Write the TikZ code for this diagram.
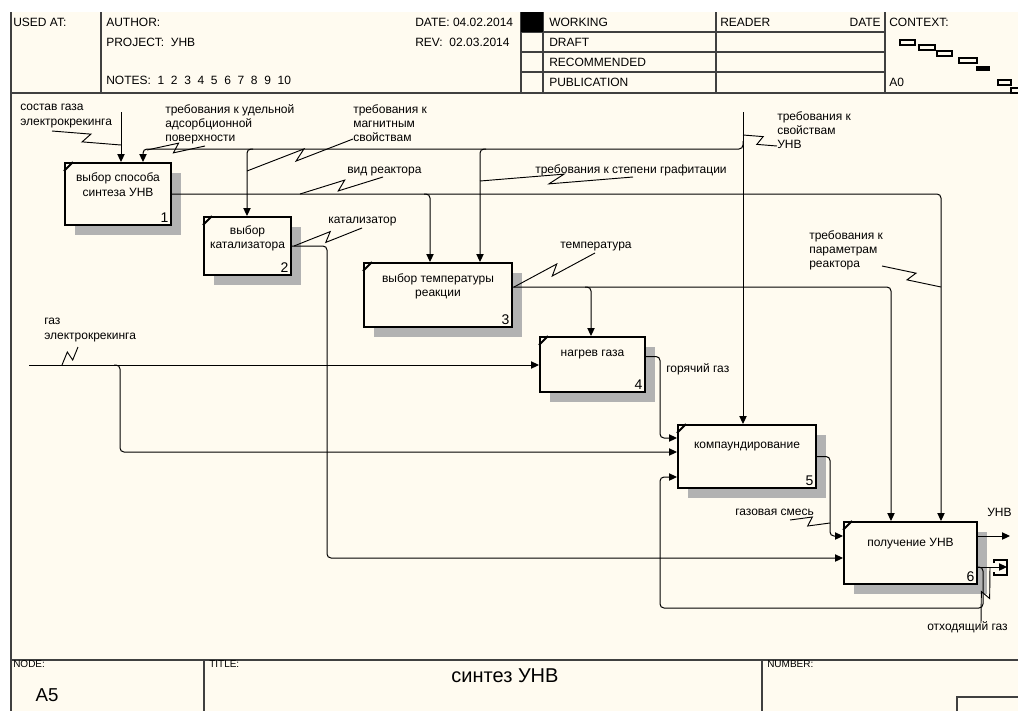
\documentclass[tikz,border=0pt]{standalone}
\usepackage{fontspec}
\setmainfont{Liberation Sans}
\usetikzlibrary{positioning, arrows.meta, calc, shadows}
\definecolor{bg}{HTML}{FFFBF0}
\newdimen\px \px=0.75pt
\newcommand\lblfont{\fontsize{9}{10.8}\selectfont}

\begin{document}
\begin{tikzpicture}[
  x=0.75pt, y=-0.75pt,
  >={Triangle[length=6pt, width=5.5pt]},
  every node/.style={font=\lblfont, inner sep=0pt},
  frame/.style={line width=1.1pt, black!75},
  hdr/.style={anchor=base west},
  foot/.style={anchor=base west, font=\fontsize{7.5}{9}\selectfont},
  func/.style={
    draw, line width=1.5pt, fill=bg,
    general shadow={fill=black!30, shadow xshift=7.5pt, shadow yshift=-7.5pt}
  },
  boxtxt/.style={align=center},
  boxnum/.style={anchor=south east, inner sep=2.5pt, font=\fontsize{10.5}{12}\selectfont},
  tick/.style={line width=1.5pt},
  lbl/.style={anchor=north west, align=left, execute at begin node=\strut},
  arr/.style={->, line width=0.75pt, rounded corners=3pt},
  squig/.style={line width=0.7pt, to path={
    -- ($(\tikztostart)!0.55!(\tikztotarget)!3.5pt!90:(\tikztotarget)$)
    -- ($(\tikztostart)!0.45!(\tikztotarget)!3.5pt!-90:(\tikztotarget)$)
    -- (\tikztotarget)}}
]
\useasboundingbox (0,0) rectangle (1018,711);
\fill[white] (0,0) rectangle (1018,711);
\fill[bg] (11,12) rectangle (1018,711);

% Header frame
\draw[frame] (11,12) -- (11,711);
\draw[frame] (11,93) -- (1018,93);
\foreach \x in {101,521,543,716,885} \draw[frame] (\x,12) -- (\x,93);
\foreach \y in {32,52,72} \draw[frame] (521,\y) -- (885,\y);
\fill (521,12) rectangle (543,32);

\node[hdr] (usedat) at (13,26) {USED AT:};
\node[hdr] (author) at (106,26) {AUTHOR:};
\node[hdr] (project) at (106,46) {PROJECT:\ \ УНВ};
\node[hdr] (notes) at (106,84) {NOTES:\ \ 1\ \ 2\ \ 3\ \ 4\ \ 5\ \ 6\ \ 7\ \ 8\ \ 9\ \ 10};
\node[hdr] (date) at (415,26) {DATE:\ 04.02.2014};
\node[hdr] (rev) at (415,46) {REV:\ \ 02.03.2014};
\node[hdr] (working) at (549,26) {WORKING};
\node[hdr] (draft) at (549,46) {DRAFT};
\node[hdr] (recomm) at (549,66) {RECOMMENDED};
\node[hdr] (public) at (549,86) {PUBLICATION};
\node[hdr] (reader) at (720,26) {READER};
\node[anchor=base east] (rdate) at (881,26) {DATE};
\node[hdr] (context) at (889,26) {CONTEXT:};
\node[hdr] (ctxnode) at (889,86) {A0};

% Context map
\foreach \a/\b/\c/\d in {900/40/915/45, 919/45/935/50, 937/51/952/56,
  959/58/977/63, 998/80/1011/85, 1011/88/1024/93}
  \draw[line width=0.8pt] (\a,\b) rectangle (\c,\d);
\fill (976,66) rectangle (990,71);

% Footer frame
\draw[frame] (11,660) -- (1018,660);
\draw[frame] (204,660) -- (204,711);
\draw[frame] (762,660) -- (762,711);
\draw[frame] (957,711) |- (1018,697);
\node[foot] (nodelbl) at (13,667) {NODE:};
\node[foot] (titlelbl) at (209,667) {TITLE:};
\node[foot] (numlbl) at (767,667) {NUMBER:};
\node[font=\fontsize{14}{16}\selectfont] (nodeno) at (47,695) {A5};
\node[font=\fontsize{15}{17}\selectfont] (title) at (505,676) {синтез УНВ};

% Activity boxes
\node[func, minimum width=106\px, minimum height=62\px] (b1) at (118,194) {};
\node[func, minimum width=87\px, minimum height=58\px] (b2) at (247.5,246) {};
\node[func, minimum width=148\px, minimum height=64\px] (b3) at (438,295) {};
\node[func, minimum width=105\px, minimum height=55\px] (b4) at (592.5,364.5) {};
\node[func, minimum width=138\px, minimum height=63\px] (b5) at (747,456.5) {};
\node[func, minimum width=133\px, minimum height=62\px] (b6) at (910.5,553) {};

\node[boxtxt] (t1) at ($(b1.north)+(0,22.5)$) {выбор способа\\синтеза УНВ};
\node[boxtxt] (t2) at ($(b2.north)+(0,22.5)$) {выбор\\катализатора};
\node[boxtxt] (t3) at ($(b3.north)+(0,24.5)$) {выбор температуры\\реакции};
\node[boxtxt] (t4) at ($(b4.north)+(0,19)$) {нагрев газа};
\node[boxtxt] (t5) at ($(b5.north)+(0,23)$) {компаундирование};
\node[boxtxt] (t6) at ($(b6.north)+(0,23)$) {получение УНВ};

\foreach \i in {1,...,6} {
  \node[boxnum] (n\i) at (b\i.south east) {\i};
  \draw[tick] ($(b\i.north west)+(0,9)$) -- ($(b\i.north west)+(9,0)$);
}

% Control of A1: gas composition
\coordinate (sg) at (121,112);
\draw[arr] (sg) -- (sg |- b1.north);

% Requirements: enter at top, feed A5, branch left to A1, A2, A3
\coordinate (rq) at (743,112);
\coordinate (rqj) at (743,149);
\coordinate (r1) at (143,149);
\coordinate (r2) at (247,149);
\coordinate (r3) at (480,149);
\draw[arr] (rq) -- (rq |- b5.north);
\draw[arr] ($(rqj)+(0,-8)$) -- (rqj) -| (r1 |- b1.north);
\draw[arr] ($(r2)+(6,0)$) -| (r2 |- b2.north);
\draw[arr] ($(r3)+(6,0)$) -| (r3 |- b3.north);

% A1 output: reactor type to A3 and A6
\coordinate (vr) at (941,194);
\coordinate (v3) at (430,194);
\draw[arr] (b1.east) -| (vr |- b6.north);
\draw[arr] ($(v3)+(-6,0)$) -| (v3 |- b3.north);

% A2 output: catalyst to A6
\coordinate (kt) at (327,558);
\draw[arr] (b2.east) -| (kt) -- (kt -| b6.west);

% A3 output: temperature to A4 and A6
\coordinate (tp) at (891,287);
\coordinate (t4) at (591,287);
\draw[arr] (b3.east |- tp) -| (tp |- b6.north);
\draw[arr] ($(t4)+(-6,0)$) -| (t4 |- b4.north);

% Gas input to A4 and A5
\coordinate (gi) at (29,365);
\coordinate (g5) at (120,452);
\draw[arr] (gi) -- (gi -| b4.west);
\draw[arr] ($(gi)+(85,0)$) -| (g5) -- (g5 -| b5.west);

% A4 output: hot gas to A5
\coordinate (hg) at (660,438);
\draw[arr] ($(b4.east)+(0,-8)$) -| (hg) -- (hg -| b5.west);

% A5 output: gas mixture to A6
\coordinate (gs) at (830,536);
\draw[arr] (b5.east) -| (gs) -- (gs -| b6.west);

% A6 outputs, tunnel and feedback to A5
\coordinate (un) at (1010,536);
\coordinate (og) at (1007,567);
\coordinate (fb) at (983,608);
\coordinate (f5) at (660,477);
\draw[arr] (un -| b6.east) -- (un);
\draw[arr] (og -| b6.east) -- (og);
\draw[line width=0.8pt] (994,563) |- (1007,560) |- (994,575) -- (994,572);
\draw[arr] (og -| b6.east) -| (fb) -| (f5) -- (f5 -| b5.west);

% Arrow labels
\node[lbl] (l1) at (20,104) {состав газа\\электрокрекинга};
\node[lbl] (l2) at (165,104) {требования к удельной\\адсорбционной\\поверхности};
\node[lbl] (l3) at (353,104) {требования к\\магнитным\\свойствам};
\node[lbl] (l4) at (347,163) {вид реактора};
\node[lbl] (l5) at (535,163) {требования к степени графитации};
\node[lbl] (l6) at (777,111) {требования к\\свойствам\\УНВ};
\node[lbl] (l7) at (809,230) {требования к\\параметрам\\реактора};
\node[lbl] (l8) at (328,213) {катализатор};
\node[lbl] (l9) at (560,238) {температура};
\node[lbl] (l10) at (44,318) {газ\\электрокрекинга};
\node[lbl] (l11) at (666,362) {горячий газ};
\node[lbl] (l12) at (735,505) {газовая смесь};
\node[lbl] (l13) at (987,506) {УНВ};
\node[lbl] (l14) at (927,620) {отходящий газ};

% Squiggles from labels to arrows
\coordinate (s1a) at (52,131);   \coordinate (s1b) at (121,145);
\coordinate (s2a) at (205,146);  \coordinate (s2b) at (147,150);
\coordinate (s3a) at (353,139);  \coordinate (s3b) at (247,171);
\coordinate (s4a) at (383,177);  \coordinate (s4b) at (300,194);
\coordinate (s5a) at (633,177);  \coordinate (s5b) at (480,181);
\coordinate (s6a) at (777,146);  \coordinate (s6b) at (743,135);
\coordinate (s7a) at (882,266);  \coordinate (s7b) at (941,287);
\coordinate (s8a) at (362,228);  \coordinate (s8b) at (294,246);
\coordinate (s9a) at (595,253);  \coordinate (s9b) at (514,287);
\coordinate (s10a) at (78,347);  \coordinate (s10b) at (62,365);
\coordinate (s11a) at (790,520); \coordinate (s11b) at (830,523);
\coordinate (s12a) at (981,623); \coordinate (s12b) at (990,567);
\foreach \i in {1,...,12} \draw[squig] (s\i a) to (s\i b);
\end{tikzpicture}
\end{document}
